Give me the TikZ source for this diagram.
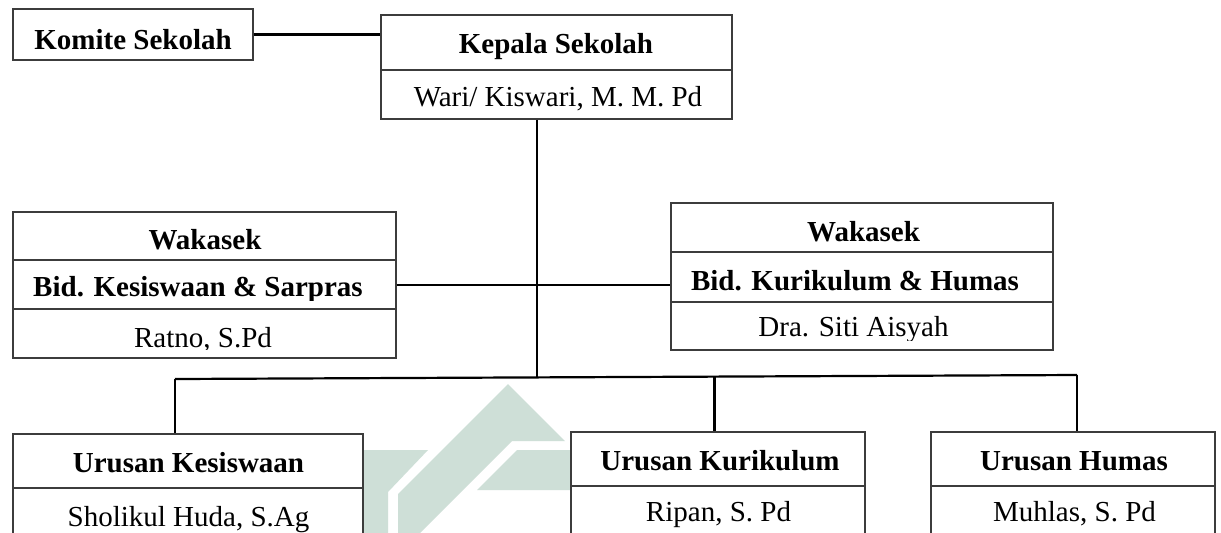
\documentclass[tikz,border=0pt]{standalone}
\usepackage{fontspec}
\setmainfont{Liberation Serif}
\usetikzlibrary{fit,calc}
\definecolor{boxgray}{RGB}{60,60,60}
\definecolor{wm}{RGB}{206,223,215}
\begin{document}
\begin{tikzpicture}[x=0.5pt,y=-0.5pt,
  box/.style={draw=boxgray,line width=0.7pt,fill=white,inner sep=0pt},
  divline/.style={draw=boxgray,line width=0.7pt},
  con/.style={draw=black,line width=1.1pt},
  bt/.style={anchor=base,inner sep=0pt,font=\fontsize{14.5}{17}\selectfont\bfseries},
  nt/.style={anchor=base,inner sep=0pt,font=\fontsize{14.5}{17}\selectfont},
  wmark/.style={fill=wm,draw=none}]
\clip (0,0) rectangle (1221,532);
\fill[white] (0,0) rectangle (1221,532);
% watermark
\fill[wmark] (350,450) -- (428,450) -- (388,492) -- (388,540) -- (350,540) -- cycle;
\fill[wmark] (398,540) -- (398,494) -- (508,384) -- (565,441) -- (512,441) -- (413,540) -- cycle;
\fill[wmark] (517,450) -- (580,450) -- (580,490) -- (477,490) -- cycle;
% boxes
\node[box,fit={(13,9)(253,60)}] (komite) {};
\node[box,fit={(381,15)(732,119)}] (kepala) {};
\node[box,fit={(13,212)(396,358)}] (wkl) {};
\node[box,fit={(671,203)(1053,350)}] (wkr) {};
\node[box,fit={(13,434)(363,580)}] (uks) {};
\node[box,fit={(571,432)(865,580)}] (ukr) {};
\node[box,fit={(931,432)(1215,580)}] (uhm) {};
% dividers
\draw[divline] (381,70) -- (732,70);
\draw[divline] (13,260) -- (396,260);
\draw[divline] (13,309) -- (396,309);
\draw[divline] (671,252) -- (1053,252);
\draw[divline] (671,302) -- (1053,302);
\draw[divline] (13,488) -- (363,488);
\draw[divline] (571,486) -- (865,486);
\draw[divline] (931,486) -- (1215,486);
% connectors
\coordinate (busL) at (175,379);
\coordinate (busR) at (1077,375);
\coordinate (trunk) at ($(busL)!0.4013!(busR)$);
\coordinate (bus2) at ($(busL)!0.5981!(busR)$);
\draw[con] (komite.east) -- (komite.east -| kepala.west);
\draw[con] (kepala.south -| trunk) -- (trunk);
\draw[con] (wkl.east) -- (wkl.east -| wkr.west);
\draw[con] (busL) -- (busR);
\draw[con] (busL) -- (busL |- uks.north);
\draw[con] (bus2) -- (bus2 |- ukr.north);
\draw[con] (busR) -- (busR |- uhm.north);
% texts
\node[bt] (tkomite) at (133,49) {Komite Sekolah};
\node[bt] (tkepala) at (556,53.3) {Kepala Sekolah};
\node[nt] (nkepala) at (558,106.7) {Wari/ Kiswari, M. M. Pd};
\node[bt] (twkl) at (205,249.3) {Wakasek};
\begin{scope}
  \clip (13,260) rectangle (396,300);
  \node[bt] (bwkl) at (198,296.7) {Bid. Kesiswaan \& Sarpras};
\end{scope}
\begin{scope}
  \clip (13,309) rectangle (396,349.5);
  \node[nt] (nwkl) at (203,347) {Ratno, S.Pd};
\end{scope}
\node[bt] (twkr) at (863.5,241.7) {Wakasek};
\node[bt] (bwkr) at (855,290) {Bid. Kurikulum \& Humas};
\begin{scope}
  \clip (671,302) rectangle (1053,340);
  \node[nt] (nwkr) at (853.5,336.7) {Dra. Siti Aisyah};
\end{scope}
\node[bt] (tuks) at (188.5,472.3) {Urusan Kesiswaan};
\node[nt] (nuks) at (188.5,526.7) {Sholikul Huda, S.Ag};
\node[bt] (tukr) at (720,470) {Urusan Kurikulum};
\node[nt] (nukr) at (718.5,521.7) {Ripan, S. Pd};
\node[bt] (tuhm) at (1074,470) {Urusan Humas};
\node[nt] (nuhm) at (1074.5,521.7) {Muhlas, S. Pd};
\end{tikzpicture}
\end{document}
